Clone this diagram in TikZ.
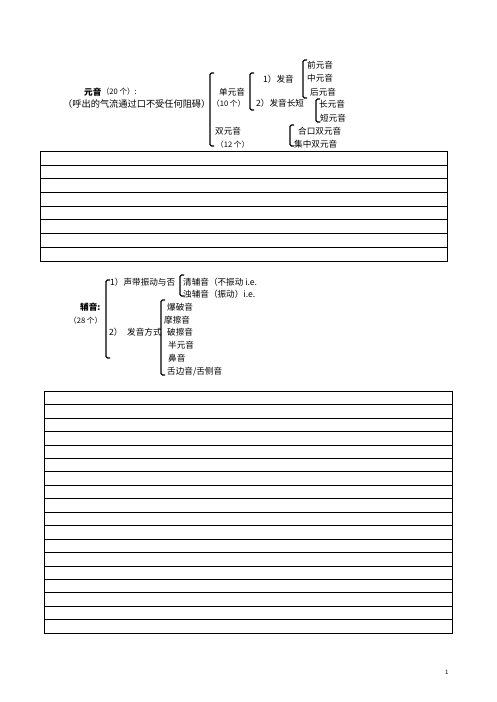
\documentclass[tikz,border=0pt]{standalone}
\usepackage{fontspec}
\newfontfamily\cjk{Noto Sans CJK SC}
\begin{document}
\begin{tikzpicture}[x=1pt,y=-1pt,
  t/.style={anchor=west,inner sep=0pt,font=\cjk\fontsize{8.6}{10}\selectfont},
  ts/.style={anchor=west,inner sep=0pt,font=\cjk\fontsize{7.6}{9}\selectfont},
  br/.style={line width=1.3pt,rounded corners=1.5pt},
  tab/.style={line width=1pt}]
\useasboundingbox[fill=white] (0,0) rectangle (496,702);
% ---- vowels ----
\node[t] (yy) at (84,92) {\textbf{元音}};
\node[ts] (yyn) at (yy.east) {（20 个）:};
\node[t,font=\cjk\fontsize{9.2}{10}\selectfont] (yyd) at (63,104) {（呼出的气流通过口不受任何阻碍）};
\node[t] (dan) at (219,92) {单元音};
\node[ts] (dann) at (212,104) {（10 个）};
\node[t] (shuang) at (215,131) {双元音};
\node[ts] (shuangn) at (216,145) {（12 个）};
\node[t] (fy) at (263,79) {1）发音};
\node[t] (fycd) at (256,103) {2）发音长短};
\node[t] (q) at (307,65) {前元音};
\node[t] (z) at (307,78) {中元音};
\node[t] (h) at (310,92) {后元音};
\node[t] (c) at (319,104) {长元音};
\node[t] (d) at (320,118) {短元音};
\node[t] (hk) at (298,131) {合口双元音};
\node[t] (jz) at (294,144) {集中双元音};
\draw[br] (214,73) -- (210,73) -- (210,146) -- (214,146);
\draw[br] (254,73) -- (250,73) -- (250,110) -- (254,110);
\draw[br] (307,60) -- (303,60) -- (303,98) -- (307,98);
\draw[br] (320,99) -- (316,99) -- (316,122) -- (320,122);
\draw[br] (294,125) -- (290,125) -- (290,146) -- (294,146);
% ---- table 1 ----
\draw[tab] (40.3,151.3) rectangle (447.3,261);
\foreach \i in {1,...,7} \draw[tab] (40.3,151.3+13.71*\i) -- (447.3,151.3+13.71*\i);
% ---- consonants ----
\node[t] (sd) at (110,282) {1）声带振动与否};
\node[t] (qf) at (183,282) {清辅音（不振动 i.e.};
\node[t] (zf) at (183,294) {浊辅音（振动）i.e.};
\node[t] (fu) at (80,307) {\textbf{辅音:}};
\node[ts] (fun) at (69,321) {（28 个）};
\node[t] (two) at (109,332) {2）};
\node[t] (fs) at (127,332) {发音方式};
\node[t] (bp) at (167,307) {爆破音};
\node[t] (mc) at (164,320) {摩擦音};
\node[t] (pc) at (167,332) {破擦音};
\node[t] (by) at (168,345) {半元音};
\node[t] (bi) at (168,358) {鼻音};
\node[t] (sb) at (167,372) {舌边音/舌侧音};
\draw[br] (110,280) -- (106,280) -- (106,358) -- (110,358);
\draw[br] (184,275) -- (180,275) -- (180,296) -- (184,296);
\draw[br] (165,300) -- (161,300) -- (161,375) -- (165,375);
% ---- table 2 ----
\draw[tab] (44.3,391.3) rectangle (452.3,633.3);
\foreach \i in {1,...,17} \draw[tab] (44.3,391.3+13.444*\i) -- (452.3,391.3+13.444*\i);
% ---- page number ----
\node[ts,font=\cjk\fontsize{6}{7}\selectfont] (pg) at (445,672) {1};
\end{tikzpicture}
\end{document}
